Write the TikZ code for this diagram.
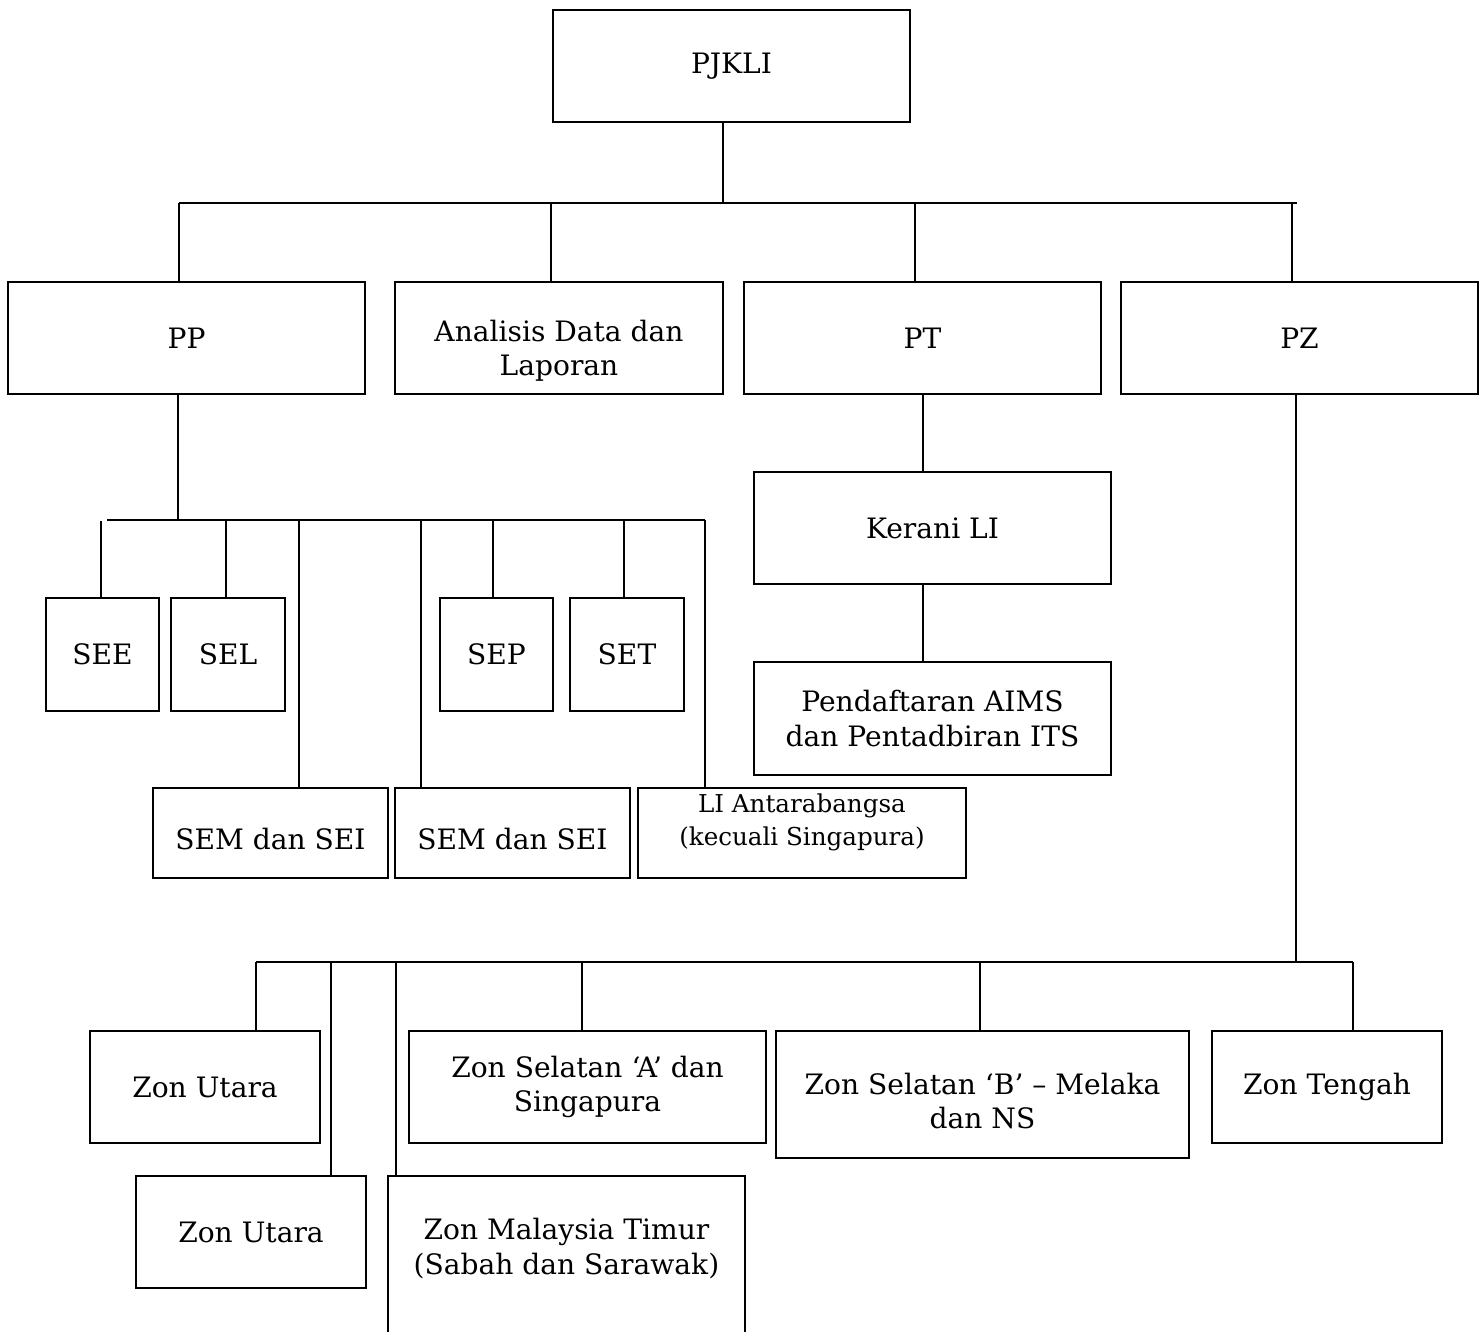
\documentclass[tikz,border=0pt]{standalone}
\usepackage{fontspec}
\setmainfont{DejaVu Serif}
\usepackage{tikz}

\begin{document}
\begin{tikzpicture}[x=0.02cm, y=-0.02cm,
  line width=1.1pt,
  font=\fontsize{16}{19.6}\selectfont,
  unit/.style={draw, align=center, inner sep=0pt},
  big/.style={unit, minimum width=7.14cm, minimum height=2.24cm},
  sect/.style={unit, minimum width=2.27cm, minimum height=2.26cm},
  mid/.style={unit, minimum width=4.7cm, minimum height=1.8cm},
  zon/.style={unit, minimum width=4.6cm, minimum height=2.24cm},
  inlabel/.style={align=center, inner sep=0pt}]
  \useasboundingbox (0,0) rectangle (1481,1332);

  \node[big] (pjkli) at (731.5,66) {PJKLI};
  \node[big] (pp) at (186.5,338) {PP};
  \node[unit, minimum width=6.56cm, minimum height=2.24cm,
    label={[inlabel, name=adl-txt, yshift=-0.26cm]center:Analisis Data dan\\Laporan}] (adl) at (559,338) {};
  \node[big] (pt) at (922.5,338) {PT};
  \node[big] (pz) at (1299.5,338) {PZ};

  \node[sect] (see) at (102.5,654.5) {SEE};
  \node[sect] (sel) at (228,654.5) {SEL};
  \node[sect] (sep) at (496.5,654.5) {SEP};
  \node[sect] (set) at (627,654.5) {SET};
  \node[mid, label={[inlabel, name=sem1-txt, yshift=-0.12cm]center:SEM dan SEI}] (sem1) at (270.5,833) {};
  \node[mid, label={[inlabel, name=sem2-txt, yshift=-0.12cm]center:SEM dan SEI}] (sem2) at (512.5,833) {};
  \node[unit, minimum width=6.56cm, minimum height=1.8cm,
    label={[inlabel, name=lia-txt, yshift=0.21cm, font=\fontsize{14}{18.7}\selectfont]center:LI Antarabangsa\\(kecuali Singapura)}] (lia) at (802,833) {};

  \node[big] (kerani) at (932.5,528) {Kerani LI};
  \node[big, minimum height=2.26cm] (aims) at (932.5,718.5) {Pendaftaran AIMS\\dan Pentadbiran ITS};

  \node[zon] (zu1) at (205,1087) {Zon Utara};
  \node[zon] (zu2) at (251,1232) {Zon Utara};
  \node[big, minimum height=3.38cm,
    label={[inlabel, name=zmt-txt, yshift=0.24cm]center:Zon Malaysia Timur\\(Sabah dan Sarawak)}] (zmt) at (566.5,1260.5) {};
  \node[big] (zsa) at (587.5,1087) {Zon Selatan ‘A’ dan\\Singapura};
  \node[unit, minimum width=8.26cm, minimum height=2.54cm,
    label={[inlabel, name=zsb-txt, yshift=-0.13cm]center:Zon Selatan ‘B’ – Melaka\\dan NS}] (zsb) at (982.5,1094.5) {};
  \node[zon] (zt) at (1327,1087) {Zon Tengah};

  \coordinate (j0) at (723,203);
  \coordinate (tR) at (1297,203);
  \coordinate (a1) at (179,203);
  \coordinate (a2) at (551,203);
  \coordinate (a3) at (915,203);
  \coordinate (a4) at (1292,203);
  \draw (j0 |- pjkli.south) -- (j0);
  \draw (a1) -- (tR);
  \foreach \j/\n in {a1/pp, a2/adl, a3/pt, a4/pz}
    \draw (\j) -- (\j |- \n.north);

  \coordinate (b0) at (178,520);
  \coordinate (bL) at (107,520);
  \coordinate (b1) at (101,521);
  \coordinate (b2) at (226,520);
  \coordinate (b3) at (299,520);
  \coordinate (b4) at (421,520);
  \coordinate (b5) at (493,520);
  \coordinate (b6) at (624,520);
  \coordinate (b7) at (705,520);
  \draw (b0 |- pp.south) -- (b0);
  \draw (bL) -- (b7);
  \foreach \j/\n in {b1/see, b2/sel, b3/sem1, b4/sem2, b5/sep, b6/set, b7/lia}
    \draw (\j) -- (\j |- \n.north);

  \coordinate (c0) at (923,430);
  \draw (c0 |- pt.south) -- (c0 |- kerani.north);
  \draw (c0 |- kerani.south) -- (c0 |- aims.north);

  \coordinate (d0) at (1296,962);
  \coordinate (e1) at (256,962);
  \coordinate (e2) at (331,962);
  \coordinate (e3) at (396,962);
  \coordinate (e4) at (582,962);
  \coordinate (e5) at (980,962);
  \coordinate (e6) at (1353,962);
  \draw (d0 |- pz.south) -- (d0);
  \draw (e1) -- (e6);
  \foreach \j/\n in {e1/zu1, e2/zu2, e3/zmt, e4/zsa, e5/zsb, e6/zt}
    \draw (\j) -- (\j |- \n.north);
\end{tikzpicture}
\end{document}
